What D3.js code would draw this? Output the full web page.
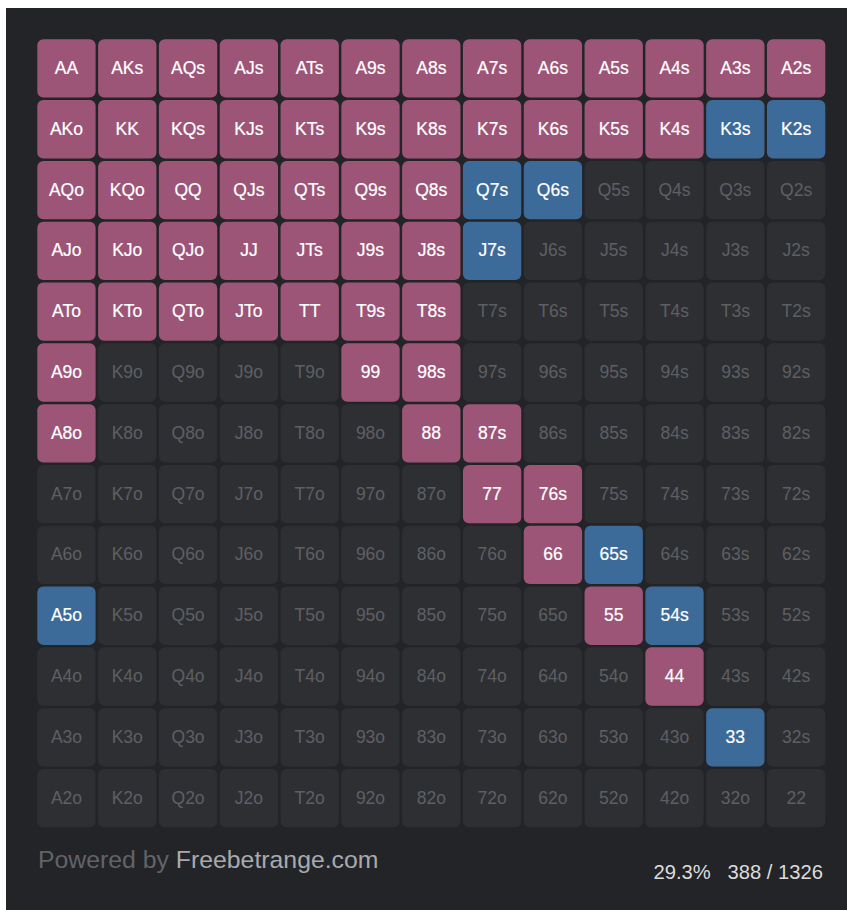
<!DOCTYPE html>
<html><head><meta charset="utf-8">
<script src="https://cdn.jsdelivr.net/npm/d3@7"></script>
<style>
html,body{margin:0;padding:0;background:#fff;}
svg{display:block;}
</style></head>
<body>
<script>
const ranks = ["A","K","Q","J","T","9","8","7","6","5","4","3","2"];
// r = raise (pink), c = call/other (blue), . = fold
const actionRows = [
  "rrrrrrrrrrrrr",
  "rrrrrrrrrrrcc",
  "rrrrrrrcc....",
  "rrrrrrrc.....",
  "rrrrrrr......",
  "r....rr......",
  "r.....rr.....",
  ".......rr....",
  "........rc...",
  "c........rc..",
  "..........r..",
  "...........c.",
  "............."
];
const actionColors = {r:"#9d5577", c:"#3c6b99", ".":"#2e2f33"};
const totalCombos = 1326;
const footerBrand = ["Powered by ", "Freebetrange.com"];

const W = 847, H = 910;
const svg = d3.select("body").append("svg").attr("width", W).attr("height", H);
svg.append("rect").attr("x",6).attr("y",8).attr("width",W-6).attr("height",H-8).attr("fill","#232428");

const x = d3.scaleBand().domain(d3.range(13)).range([37.3, 825.3]).paddingInner(0.041);
const y = d3.scaleBand().domain(d3.range(13)).range([39.3, 827.3]).paddingInner(0.041);

const cells = [];
ranks.forEach((r1,i)=>ranks.forEach((r2,j)=>{
  let label, combos;
  if(i===j){label=r1+r2; combos=6;}
  else if(j>i){label=r1+r2+"s"; combos=4;}
  else {label=r2+r1+"o"; combos=12;}
  cells.push({i,j,label,combos,a:actionRows[i][j]});
}));

const g = svg.append("g").selectAll("g").data(cells).join("g")
  .attr("transform", d=>`translate(${x(d.j)},${y(d.i)})`);
g.append("rect").attr("width",x.bandwidth()).attr("height",y.bandwidth())
  .attr("rx",6).attr("ry",6).attr("fill",d=>actionColors[d.a]);
g.append("text").attr("x",x.bandwidth()/2).attr("y",y.bandwidth()/2+5.5)
  .attr("text-anchor","middle")
  .attr("font-family","'Liberation Sans', Arial, sans-serif")
  .attr("font-size",17.5)
  .attr("fill",d=>d.a==="."?"#5e5f63":"#ffffff")
  .attr("stroke",d=>d.a==="."?"none":"#ffffff")
  .attr("stroke-width",0.2)
  .text(d=>d.label);

const selected = d3.sum(cells.filter(d=>d.a!=="."), d=>d.combos);
const pct = (selected/totalCombos*100).toFixed(1)+"%";

const ft = svg.append("text").attr("x",38).attr("y",868)
  .attr("font-family","'Liberation Sans', Arial, sans-serif").attr("font-size",24.8);
ft.append("tspan").attr("fill","#626366").text(footerBrand[0]);
ft.append("tspan").attr("fill","#a9aaad").text(footerBrand[1]);

svg.append("text").attr("x",823).attr("y",879).attr("text-anchor","end")
  .attr("font-family","'Liberation Sans', Arial, sans-serif").attr("font-size",20.2)
  .attr("fill","#dcdcdc").attr("xml:space","preserve")
  .text(pct+"   "+selected+" / "+totalCombos);
</script>
</body></html>
